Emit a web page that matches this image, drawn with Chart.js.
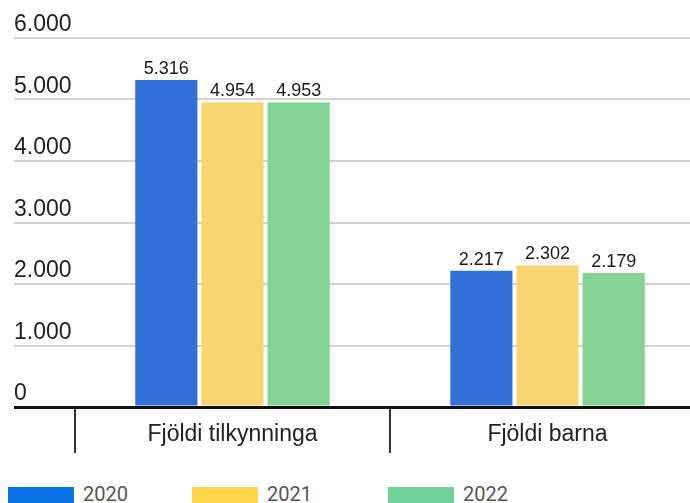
<!DOCTYPE html>
<html lang="is">
<head>
<meta charset="utf-8">
<title>Fjöldi tilkynninga og barna</title>
<script src="https://cdn.jsdelivr.net/npm/chart.js@4.4.1/dist/chart.umd.min.js"></script>
<style>
  html, body { margin: 0; padding: 0; overflow: hidden; background: #fff; width: 690px; height: 503px; }
  #chartBox { position: absolute; left: 0; top: 0; width: 720px; height: 470px; }
  #legend { position: absolute; left: 8px; top: 487px; display: flex; font-family: Roboto, sans-serif; font-size: 20px; color: #555; }
  .legend-item { display: flex; align-items: flex-start; width: 184px; }
  .legend-item:nth-child(2) { width: 196px; }
  .legend-box { width: 66px; height: 20px; margin-right: 9px; }
  .legend-text { line-height: 1; margin-top: -3px; }
</style>
</head>
<body>
<div id="chartBox"><canvas id="barChart" width="720" height="470"></canvas></div>
<div id="legend"></div>
<script>
const categories = ['Fjöldi tilkynninga', 'Fjöldi barna'];
const years = ['2020', '2021', '2022'];
const values2020 = [5316, 2217];
const values2021 = [4954, 2302];
const values2022 = [4953, 2179];
const barColors = ['#3370d8', '#f8d570', '#84d394'];
const legendColors = ['#0b72e3', '#ffd54a', '#70d296'];

const fontFamily = '"Liberation Sans", Arial, sans-serif';

function formatNumber(v) {
  return String(v).replace(/\B(?=(\d{3})+(?!\d))/g, '.');
}

// value labels above each bar
const valueLabels = {
  id: 'valueLabels',
  afterDatasetsDraw(chart) {
    const { ctx } = chart;
    ctx.save();
    ctx.font = '18px ' + fontFamily;
    ctx.fillStyle = '#1a1a1a';
    ctx.textAlign = 'center';
    ctx.textBaseline = 'alphabetic';
    chart.data.datasets.forEach((ds, i) => {
      chart.getDatasetMeta(i).data.forEach((bar, j) => {
        ctx.fillText(formatNumber(ds.data[j]), bar.x, bar.y - 6);
      });
    });
    ctx.restore();
  },
};

const seriesValues = [values2020, values2021, values2022];

new Chart(document.getElementById('barChart'), {
  type: 'bar',
  data: {
    labels: categories,
    datasets: years.map((year, i) => ({
      label: year,
      data: seriesValues[i],
      backgroundColor: barColors[i],
      borderWidth: 0,
      barPercentage: 0.94,
      categoryPercentage: 0.63,
    })),
  },
  options: {
    responsive: false,
    animation: false,
    layout: { padding: { left: 14, top: 38, right: 15, bottom: 13 } },
    plugins: {
      legend: { display: false },
      tooltip: { enabled: false },
    },
    scales: {
      x: {
        grid: { drawOnChartArea: false, offset: true, tickLength: 46, color: '#333', lineWidth: 2 },
        border: { display: false },
        ticks: { padding: -32, color: '#222', font: { size: 23, family: fontFamily } },
        afterFit: (scale) => { scale.height = 50; },
      },
      y: {
        min: 0,
        max: 6000,
        border: { display: false },
        grid: {
          color: (c) => (c.tick && c.tick.value === 0 ? '#111' : '#d3d3d3'),
          lineWidth: (c) => (c.tick && c.tick.value === 0 ? 3 : 2),
          tickLength: 61,
        },
        ticks: {
          stepSize: 1000,
          mirror: true,
          padding: -61,
          labelOffset: -13,
          color: '#222',
          font: { size: 23, family: fontFamily },
          callback: (v) => formatNumber(v),
        },
        afterFit: (scale) => { scale.width = 61; },
      },
    },
  },
  plugins: [valueLabels],
});

// legend below the chart
document.getElementById('legend').innerHTML = years
  .map(
    (year, i) => `
    <div class="legend-item">
      <div class="legend-box" style="background:${legendColors[i]}"></div>
      <span class="legend-text">${year}</span>
    </div>`,
  )
  .join('');
</script>
</body>
</html>
